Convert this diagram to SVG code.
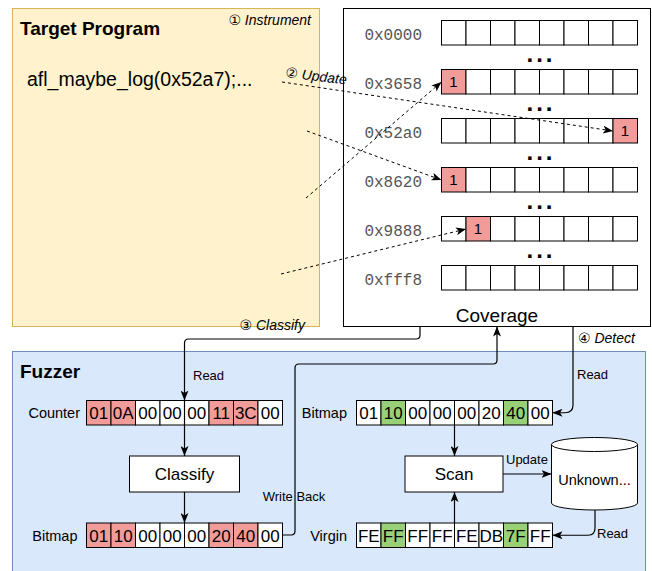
<svg xmlns="http://www.w3.org/2000/svg" width="652" height="571" viewBox="0 0 652 571">
<style>
text{font-family:"Liberation Sans",Arial,"DejaVu Sans",sans-serif;fill:#000}
.cell{fill:#fff;stroke:#000;stroke-width:1}
.red{fill:#f19c99}
.grn{fill:#97d077}
.hex{font-size:17px;text-anchor:middle}
.one{font-size:15px;text-anchor:middle}
.addr{font-family:"Liberation Mono","Courier New",monospace;font-size:16px;fill:#555;text-anchor:end}
.dots{font-size:24px;font-weight:bold;text-anchor:middle;letter-spacing:3px}
.lbl{font-size:14.5px;text-anchor:end}
.small{font-size:13px}
.step{font-size:14px;font-style:italic}
.title{font-size:19px;font-weight:bold}
.box{fill:#fff;stroke:#000;stroke-width:1}
.e{fill:none;stroke:#000;stroke-width:1.2}
.d{fill:none;stroke:#000;stroke-width:1;stroke-dasharray:3 3}
</style>
<defs>
<marker id="arr" viewBox="0 0 10 8" refX="10" refY="4" markerWidth="10" markerHeight="8" markerUnits="userSpaceOnUse" orient="auto">
<path d="M0,0 L10,4 L0,8 L2.5,4 Z" fill="#000"/>
</marker>
</defs>

<g id="target-program">
<rect x="12.5" y="8.5" width="307" height="318" fill="#fff2cc" stroke="#d6b656"/>
<text class="title" x="20" y="35">Target Program</text>
<text x="27" y="86" font-size="19.5px">afl_maybe_log(0x52a7);...</text>
<text class="step" x="311" y="25" text-anchor="end">① Instrument</text>
</g>

<g id="fuzzer">
<rect x="12.5" y="351.5" width="633" height="230" fill="#dae8fc" stroke="#6c8ebf"/>
<text class="title" x="20" y="378">Fuzzer</text>
</g>

<g id="coverage">
<rect x="343.5" y="8.5" width="307" height="318" class="box"/>
<text x="497" y="322" font-size="19px" text-anchor="middle">Coverage</text>
<g id="row-0x0000">
<text class="addr" x="422" y="39.5">0x0000</text>
<rect class="cell" x="441.5" y="20.5" width="24.5" height="24.5"/><rect class="cell" x="466" y="20.5" width="24.5" height="24.5"/><rect class="cell" x="490.5" y="20.5" width="24.5" height="24.5"/><rect class="cell" x="515" y="20.5" width="24.5" height="24.5"/><rect class="cell" x="539.5" y="20.5" width="24.5" height="24.5"/><rect class="cell" x="564" y="20.5" width="24.5" height="24.5"/><rect class="cell" x="588.5" y="20.5" width="24.5" height="24.5"/><rect class="cell" x="613" y="20.5" width="24.5" height="24.5"/>
</g>
<text class="dots" x="541" y="62">...</text>
<g id="row-0x3658">
<text class="addr" x="422" y="88.5">0x3658</text>
<rect class="cell red" x="441.5" y="69.5" width="24.5" height="24.5"/><rect class="cell" x="466" y="69.5" width="24.5" height="24.5"/><rect class="cell" x="490.5" y="69.5" width="24.5" height="24.5"/><rect class="cell" x="515" y="69.5" width="24.5" height="24.5"/><rect class="cell" x="539.5" y="69.5" width="24.5" height="24.5"/><rect class="cell" x="564" y="69.5" width="24.5" height="24.5"/><rect class="cell" x="588.5" y="69.5" width="24.5" height="24.5"/><rect class="cell" x="613" y="69.5" width="24.5" height="24.5"/>
<text class="one" x="453.5" y="87">1</text>
</g>
<text class="dots" x="541" y="111">...</text>
<g id="row-0x52a0">
<text class="addr" x="422" y="137.5">0x52a0</text>
<rect class="cell" x="441.5" y="118.5" width="24.5" height="24.5"/><rect class="cell" x="466" y="118.5" width="24.5" height="24.5"/><rect class="cell" x="490.5" y="118.5" width="24.5" height="24.5"/><rect class="cell" x="515" y="118.5" width="24.5" height="24.5"/><rect class="cell" x="539.5" y="118.5" width="24.5" height="24.5"/><rect class="cell" x="564" y="118.5" width="24.5" height="24.5"/><rect class="cell" x="588.5" y="118.5" width="24.5" height="24.5"/><rect class="cell red" x="613" y="118.5" width="24.5" height="24.5"/>
<text class="one" x="625" y="136">1</text>
</g>
<text class="dots" x="541" y="160">...</text>
<g id="row-0x8620">
<text class="addr" x="422" y="186.5">0x8620</text>
<rect class="cell red" x="441.5" y="167.5" width="24.5" height="24.5"/><rect class="cell" x="466" y="167.5" width="24.5" height="24.5"/><rect class="cell" x="490.5" y="167.5" width="24.5" height="24.5"/><rect class="cell" x="515" y="167.5" width="24.5" height="24.5"/><rect class="cell" x="539.5" y="167.5" width="24.5" height="24.5"/><rect class="cell" x="564" y="167.5" width="24.5" height="24.5"/><rect class="cell" x="588.5" y="167.5" width="24.5" height="24.5"/><rect class="cell" x="613" y="167.5" width="24.5" height="24.5"/>
<text class="one" x="453.5" y="185">1</text>
</g>
<text class="dots" x="541" y="209">...</text>
<g id="row-0x9888">
<text class="addr" x="422" y="235.5">0x9888</text>
<rect class="cell" x="441.5" y="216.5" width="24.5" height="24.5"/><rect class="cell red" x="466" y="216.5" width="24.5" height="24.5"/><rect class="cell" x="490.5" y="216.5" width="24.5" height="24.5"/><rect class="cell" x="515" y="216.5" width="24.5" height="24.5"/><rect class="cell" x="539.5" y="216.5" width="24.5" height="24.5"/><rect class="cell" x="564" y="216.5" width="24.5" height="24.5"/><rect class="cell" x="588.5" y="216.5" width="24.5" height="24.5"/><rect class="cell" x="613" y="216.5" width="24.5" height="24.5"/>
<text class="one" x="478" y="234">1</text>
</g>
<text class="dots" x="541" y="258">...</text>
<g id="row-0xfff8">
<text class="addr" x="422" y="284.5">0xfff8</text>
<rect class="cell" x="441.5" y="265.5" width="24.5" height="24.5"/><rect class="cell" x="466" y="265.5" width="24.5" height="24.5"/><rect class="cell" x="490.5" y="265.5" width="24.5" height="24.5"/><rect class="cell" x="515" y="265.5" width="24.5" height="24.5"/><rect class="cell" x="539.5" y="265.5" width="24.5" height="24.5"/><rect class="cell" x="564" y="265.5" width="24.5" height="24.5"/><rect class="cell" x="588.5" y="265.5" width="24.5" height="24.5"/><rect class="cell" x="613" y="265.5" width="24.5" height="24.5"/>
</g>
</g>

<g id="counter">
<text class="lbl" x="80" y="418">Counter</text>
<rect class="cell red" x="86.5" y="400.5" width="24.5" height="24.5"/><rect class="cell red" x="111" y="400.5" width="24.5" height="24.5"/><rect class="cell" x="135.5" y="400.5" width="24.5" height="24.5"/><rect class="cell" x="160" y="400.5" width="24.5" height="24.5"/><rect class="cell" x="184.5" y="400.5" width="24.5" height="24.5"/><rect class="cell red" x="209" y="400.5" width="24.5" height="24.5"/><rect class="cell red" x="233.5" y="400.5" width="24.5" height="24.5"/><rect class="cell" x="258" y="400.5" width="24.5" height="24.5"/>
<text class="hex" x="98.75" y="419">01</text><text class="hex" x="123.25" y="419">0A</text><text class="hex" x="147.75" y="419">00</text><text class="hex" x="172.25" y="419">00</text><text class="hex" x="196.75" y="419">00</text><text class="hex" x="221.25" y="419">11</text><text class="hex" x="245.75" y="419">3C</text><text class="hex" x="270.25" y="419">00</text>
</g>

<g id="classify">
<rect class="box" x="129.5" y="456" width="110" height="36"/>
<text x="184.5" y="480" font-size="17px" text-anchor="middle">Classify</text>
</g>

<g id="bitmap-left">
<text class="lbl" x="77.5" y="541">Bitmap</text>
<rect class="cell red" x="86.5" y="523" width="24.5" height="24.5"/><rect class="cell red" x="111" y="523" width="24.5" height="24.5"/><rect class="cell" x="135.5" y="523" width="24.5" height="24.5"/><rect class="cell" x="160" y="523" width="24.5" height="24.5"/><rect class="cell" x="184.5" y="523" width="24.5" height="24.5"/><rect class="cell red" x="209" y="523" width="24.5" height="24.5"/><rect class="cell red" x="233.5" y="523" width="24.5" height="24.5"/><rect class="cell" x="258" y="523" width="24.5" height="24.5"/>
<text class="hex" x="98.75" y="541.5">01</text><text class="hex" x="123.25" y="541.5">10</text><text class="hex" x="147.75" y="541.5">00</text><text class="hex" x="172.25" y="541.5">00</text><text class="hex" x="196.75" y="541.5">00</text><text class="hex" x="221.25" y="541.5">20</text><text class="hex" x="245.75" y="541.5">40</text><text class="hex" x="270.25" y="541.5">00</text>
</g>

<g id="bitmap-right">
<text class="lbl" x="347" y="418">Bitmap</text>
<rect class="cell" x="356.5" y="400.5" width="24.5" height="24.5"/><rect class="cell grn" x="381" y="400.5" width="24.5" height="24.5"/><rect class="cell" x="405.5" y="400.5" width="24.5" height="24.5"/><rect class="cell" x="430" y="400.5" width="24.5" height="24.5"/><rect class="cell" x="454.5" y="400.5" width="24.5" height="24.5"/><rect class="cell" x="479" y="400.5" width="24.5" height="24.5"/><rect class="cell grn" x="503.5" y="400.5" width="24.5" height="24.5"/><rect class="cell" x="528" y="400.5" width="24.5" height="24.5"/>
<text class="hex" x="368.75" y="419">01</text><text class="hex" x="393.25" y="419">10</text><text class="hex" x="417.75" y="419">00</text><text class="hex" x="442.25" y="419">00</text><text class="hex" x="466.75" y="419">00</text><text class="hex" x="491.25" y="419">20</text><text class="hex" x="515.75" y="419">40</text><text class="hex" x="540.25" y="419">00</text>
</g>

<g id="scan">
<rect class="box" x="405" y="456" width="98" height="36"/>
<text x="454" y="480" font-size="17px" text-anchor="middle">Scan</text>
</g>

<g id="unknown">
<path d="M551.5 444.5 A43 7 0 0 1 637.5 444.5 V503 A43 7 0 0 1 551.5 503 Z" fill="#fff" stroke="#000"/>
<path d="M551.5 444.5 A43 7 0 0 0 637.5 444.5" fill="none" stroke="#000"/>
<text x="594.5" y="485" font-size="14.5px" text-anchor="middle">Unknown...</text>
</g>

<g id="virgin">
<text class="lbl" x="347" y="541">Virgin</text>
<rect class="cell" x="356.5" y="523" width="24.5" height="24.5"/><rect class="cell grn" x="381" y="523" width="24.5" height="24.5"/><rect class="cell" x="405.5" y="523" width="24.5" height="24.5"/><rect class="cell" x="430" y="523" width="24.5" height="24.5"/><rect class="cell" x="454.5" y="523" width="24.5" height="24.5"/><rect class="cell" x="479" y="523" width="24.5" height="24.5"/><rect class="cell grn" x="503.5" y="523" width="24.5" height="24.5"/><rect class="cell" x="528" y="523" width="24.5" height="24.5"/>
<text class="hex" x="368.75" y="541.5">FE</text><text class="hex" x="393.25" y="541.5">FF</text><text class="hex" x="417.75" y="541.5">FF</text><text class="hex" x="442.25" y="541.5">FF</text><text class="hex" x="466.75" y="541.5">FE</text><text class="hex" x="491.25" y="541.5">DB</text><text class="hex" x="515.75" y="541.5">7F</text><text class="hex" x="540.25" y="541.5">FF</text>
</g>

<g id="edges">
<path class="d" d="M282 82 L613 131" marker-end="url(#arr)"/>
<path class="d" d="M307 131 L441.5 180" marker-end="url(#arr)"/>
<path class="d" d="M306 198 L441.5 82" marker-end="url(#arr)"/>
<path class="d" d="M281 274 L466 229" marker-end="url(#arr)"/>
<text class="step" x="285" y="77" transform="rotate(7 285 77)">② Update</text>

<path class="e" d="M420 326.5 V335 Q420 339 416 339 H188.5 Q184.5 339 184.5 343 V400.5" marker-end="url(#arr)"/>
<text class="step" x="305" y="330" text-anchor="end">③ Classify</text>
<text class="small" x="193" y="380">Read</text>
<path class="e" d="M184.5 400.5 V456" marker-end="url(#arr)"/>
<path class="e" d="M184.5 492 V523" marker-end="url(#arr)"/>

<path class="e" d="M282.5 535 H291 Q295 535 295 531 V368 Q295 364 299 364 H493 Q497 364 497 360 V326.5" marker-end="url(#arr)"/>
<text class="small" x="294" y="501" text-anchor="middle">Write Back</text>

<path class="e" d="M573 326.5 V405 Q573 412.75 565 412.75 H552.5" marker-end="url(#arr)"/>
<text class="step" x="578" y="343">④ Detect</text>
<text class="small" x="577" y="379">Read</text>

<path class="e" d="M454.5 425 V456" marker-end="url(#arr)"/>
<path class="e" d="M454.5 523 V492" marker-end="url(#arr)"/>
<path class="e" d="M503 474 H551.5" marker-end="url(#arr)"/>
<text class="small" x="506" y="464">Update</text>
<path class="e" d="M595 510 V528 Q595 535.25 588 535.25 H552.5" marker-end="url(#arr)"/>
<text class="small" x="597" y="538">Read</text>
</g>
</svg>
